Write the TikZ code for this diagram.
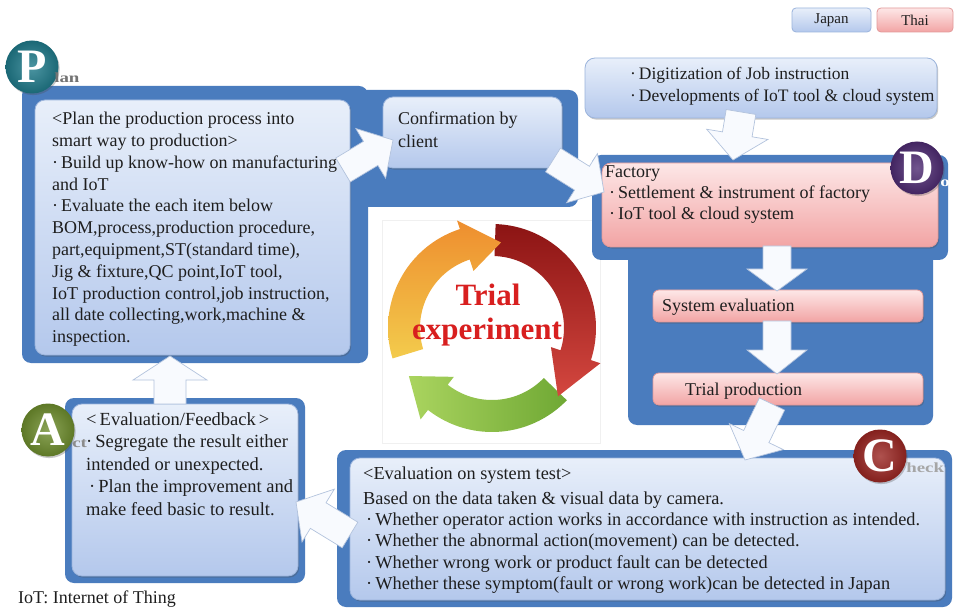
\documentclass[tikz,border=0pt]{standalone}
\usepackage{fontspec}
\setmainfont{Liberation Serif}
\usetikzlibrary{calc,shadows}

\definecolor{frameblue}{HTML}{4A7CBE}
\definecolor{boxtop}{HTML}{E8EFFA}
\definecolor{boxbot}{HTML}{B4C8EC}
\definecolor{boxedge}{HTML}{9BB4DC}
\definecolor{pinktop}{HTML}{FDE7E7}
\definecolor{pinkbot}{HTML}{F2A4A4}
\definecolor{pinkedge}{HTML}{E39A9A}
\definecolor{plancol}{HTML}{1F7A8A}
\definecolor{docol}{HTML}{4E2B72}
\definecolor{checkcol}{HTML}{9B2622}
\definecolor{actcol}{HTML}{6E8D2D}
\definecolor{trialred}{HTML}{D81F1F}
\definecolor{ink}{HTML}{1E1E1E}
\definecolor{arrowfill}{HTML}{F8FAFE}
\definecolor{arrowedge}{HTML}{B3C3DD}
\definecolor{orangeA}{HTML}{EE8E2F}
\definecolor{orangeB}{HTML}{F3CB4C}
\definecolor{redA}{HTML}{8C1414}
\definecolor{redB}{HTML}{D4473F}
\definecolor{greenA}{HTML}{AAD45F}
\definecolor{greenB}{HTML}{6FA834}

\newcommand\bul{\textperiodcentered\,}

% white block arrow: [options]{from}{to}{body half width}{head half width}{head length}
\newcommand\blockarrow[6][]{%
  \path[barrow,#1] let \p1=(#2), \p2=(#3), \n1={atan2(\y2-\y1,\x2-\x1)} in
    ($(#2)+(\n1+90:#4)$)
    -- ($(#3)+(\n1+180:#6)+(\n1+90:#4)$)
    -- ($(#3)+(\n1+180:#6)+(\n1+90:#5)$)
    -- (#3)
    -- ($(#3)+(\n1+180:#6)+(\n1-90:#5)$)
    -- ($(#3)+(\n1+180:#6)+(\n1-90:#4)$)
    -- ($(#2)+(\n1-90:#4)$) -- cycle;}

% curved ring arrow of the cycle: {start}{head base}{tip angle}{tip radius}{head outer}{head inner}{fill}
\newcommand\ringarrow[7]{%
  \path[#7] plot[variable=\t, domain=#1:#2, samples=40] (-\t:104)
    -- (-#2:#5) -- (-#3:#4) -- (-#2:#6)
    -- plot[variable=\t, domain=#2:#1, samples=40] (-\t:72) -- cycle;}

\tikzset{
  softshadow/.style={drop shadow={shadow xshift=1.2pt, shadow yshift=-1.6pt, opacity=0.3, fill=black!70}},
  frame/.style={rectangle, rounded corners=9pt, fill=frameblue, inner sep=0pt},
  bluebox/.style={rectangle, rounded corners=10pt, top color=boxtop, bottom color=boxbot,
    draw=boxedge, line width=0.8pt, inner sep=0pt, softshadow},
  pinkbox/.style={rectangle, rounded corners=6pt, top color=pinktop, bottom color=pinkbot,
    draw=pinkedge, line width=0.8pt, inner sep=0pt, softshadow},
  legendbox/.style={rectangle, rounded corners=4pt, inner sep=0pt, line width=0.8pt,
    font={\fontsize{15}{15}\selectfont}, text=ink},
  bodytext/.style={inner sep=0pt, anchor=north west, align=left, text=ink,
    font={\fontsize{18}{21.8}\selectfont}},
  linetext/.style={inner sep=0pt, anchor=base west, text=ink, font={\fontsize{18}{18}\selectfont}},
  stage/.style={circle, minimum size=53pt, inner sep=0pt, text=white,
    font={\fontsize{48}{48}\selectfont\bfseries}, softshadow},
  stagetail/.style={inner sep=0pt, anchor=base west, xscale=1.35, font={\fontsize{14}{14}\selectfont\bfseries}},
  barrow/.style={fill=arrowfill, draw=arrowedge, line width=0.7pt, line join=miter},
  trialword/.style={inner sep=0pt, text=trialred, font={\fontsize{31}{31}\selectfont\bfseries}},
}

\begin{document}
\begin{tikzpicture}[x=1pt, y=-1pt]
\useasboundingbox (0,0) rectangle (955,609);
\fill[white] (0,0) rectangle (955,609);

% ---- legend ----
\node[legendbox, top color=boxtop, bottom color=boxbot, draw=boxedge,
  minimum width=79pt, minimum height=24pt] (japan) at (831.5,20) {Japan};
\node[legendbox, top color=pinktop, bottom color=pinkbot, draw=pinkedge,
  minimum width=76pt, minimum height=24pt] (thai) at (915,20) {Thai};

% ---- trial experiment cycle ----
\node[rectangle, fill=white, draw=black!6, minimum width=218pt, minimum height=223pt] (cyclebg) at (491,331.5) {};
\begin{scope}[shift={(492,328)}]
  \ringarrow{-44}{-128}{-150}{96}{116}{62}{left color=greenA, right color=greenB}
  \ringarrow{88}{-18}{-46}{95}{114}{62}{top color=redA, bottom color=redB}
  \ringarrow{197}{108}{84}{86}{113}{60}{top color=orangeA, bottom color=orangeB}
\end{scope}
\node[trialword] (trial) at (488,295) {Trial};
\node[trialword] (experiment) at (487,332) {experiment};

% ---- dark frames ----
\node[frame, minimum width=346pt, minimum height=277pt] (planframe) at (195,224.5) {};
\node[frame, minimum width=240pt, minimum height=117pt] (confframe) at (458,148.5) {};
\node[frame, minimum width=356pt, minimum height=105pt] (doframetop) at (770,207.5) {};
\node[frame, minimum width=305pt, minimum height=175pt] (doframe) at (780.5,337.5) {};
\node[frame, minimum width=240pt, minimum height=185pt] (actframe) at (185,490.5) {};
\node[frame, minimum width=615pt, minimum height=157pt] (checkframe) at (644.5,528.5) {};

% ---- content boxes ----
\node[bluebox, minimum width=315pt, minimum height=255pt] (planbox) at (192.5,227.5) {};
\node[bluebox, minimum width=179pt, minimum height=71pt] (confbox) at (472.5,132.5) {};
\node[bluebox, minimum width=352pt, minimum height=60pt] (digbox) at (761,88) {};
\node[pinkbox, rounded corners=9pt, minimum width=336pt, minimum height=84pt] (facbox) at (770,205) {};
\node[pinkbox, minimum width=270pt, minimum height=32pt] (sysbox) at (788,306) {};
\node[pinkbox, minimum width=270pt, minimum height=32pt] (trialbox) at (788,389) {};
\node[bluebox, minimum width=226pt, minimum height=172pt] (actbox) at (185,490) {};
\node[bluebox, minimum width=595pt, minimum height=142pt] (checkbox) at (647.5,529) {};

% ---- texts ----
\node[bodytext] (plantext) at (52,112) {<Plan the production process into\\
smart way to production>\\
\bul Build up know-how on manufacturing\\
and IoT\\
\bul Evaluate the each item below\\
BOM,process,production procedure,\\
part,equipment,ST(standard time),\\
Jig \& fixture,QC point,IoT tool,\\
IoT production control,job instruction,\\
all date collecting,work,machine \&\\
inspection.};
\node[bodytext, font={\fontsize{18}{23}\selectfont}] (conftext) at (398,112) {Confirmation by\\client};
\node[bodytext, font={\fontsize{17.5}{22}\selectfont}] (digtext) at (630,67)
  {\bul Digitization of Job instruction\\\bul Developments of IoT tool \& cloud system};
\node[bodytext, font={\fontsize{18}{21}\selectfont}] (factext) at (605,166)
  {Factory\\\hspace{4pt}\bul Settlement \& instrument of factory\\\hspace{4pt}\bul IoT tool \& cloud system};
\node[linetext] (systext) at (662,312) {System evaluation};
\node[linetext] (trialtext) at (685,395) {Trial production};
\node[bodytext, font={\fontsize{18.5}{22.5}\selectfont}] (acttext) at (86,412)
  {<\,Evaluation/Feedback\,>\\\bul Segregate the result either\\intended or unexpected.\\
   \hspace{3pt}\bul Plan the improvement and\\make feed basic to result.};
\node[bodytext, font={\fontsize{18.3}{21.3}\selectfont}] (checktext) at (363,467)
  {<Evaluation on system test>\\[3pt]
   Based on the data taken \& visual data by camera.\\
   \hspace{3pt}\bul Whether operator action works in accordance with instruction as intended.\\
   \hspace{3pt}\bul Whether the abnormal action(movement) can be detected.\\
   \hspace{3pt}\bul Whether wrong work or product fault can be detected\\
   \hspace{3pt}\bul Whether these symptom(fault or wrong work)can be detected in Japan};
\node[linetext] (iotnote) at (18,603) {IoT: Internet of Thing};

% ---- connectors ----
\coordinate (p2c-s) at (343,170);  \coordinate (p2c-e) at (393,140);
\coordinate (c2f-s) at (553,160);  \coordinate (c2f-e) at (604,192);
\coordinate (d2f-s) at (741,112);  \coordinate (d2f-e) at (733,160);
\coordinate (f2s-s) at (777,246);  \coordinate (f2s-e) at (777,291);
\coordinate (s2t-s) at (777,321);  \coordinate (s2t-e) at (777,374);
\coordinate (t2c-s) at (772,404);  \coordinate (t2c-e) at (745,460);
\coordinate (c2a-s) at (350,535);  \coordinate (c2a-e) at (296,502);
\coordinate (a2p-s) at (170,404);  \coordinate (a2p-e) at (170,356);

\blockarrow{p2c-s}{p2c-e}{14pt}{29pt}{26pt}
\blockarrow{c2f-s}{c2f-e}{14pt}{29pt}{26pt}
\blockarrow{d2f-s}{d2f-e}{15pt}{31pt}{26pt}
\blockarrow{f2s-s}{f2s-e}{14pt}{30pt}{22pt}
\blockarrow{s2t-s}{s2t-e}{14pt}{30pt}{24pt}
\blockarrow{t2c-s}{t2c-e}{14pt}{30pt}{26pt}
\blockarrow{c2a-s}{c2a-e}{15pt}{31pt}{26pt}
\blockarrow{a2p-s}{a2p-e}{16pt}{37pt}{24pt}

% ---- PDCA stage badges ----
\node[stage, inner color=plancol!80!white, outer color=plancol!85!black] (pbadge) at (32,67) {P};
\node[stagetail, text=black!55] (ptail) at (54,83) {lan};
\node[stage, inner color=docol!80!white, outer color=docol!85!black] (dbadge) at (917,168) {D};
\node[stagetail, text=white] (dtail) at (940,187) {o};
\node[stage, inner color=checkcol!80!white, outer color=checkcol!85!black] (cbadge) at (880,456) {C};
\node[stagetail, text=black!35] (ctail) at (906,472) {heck};
\node[stage, inner color=actcol!80!white, outer color=actcol!85!black] (abadge) at (48,430) {A};
\node[stagetail, text=black!45] (atail) at (72,447) {ct};
\end{tikzpicture}
\end{document}
